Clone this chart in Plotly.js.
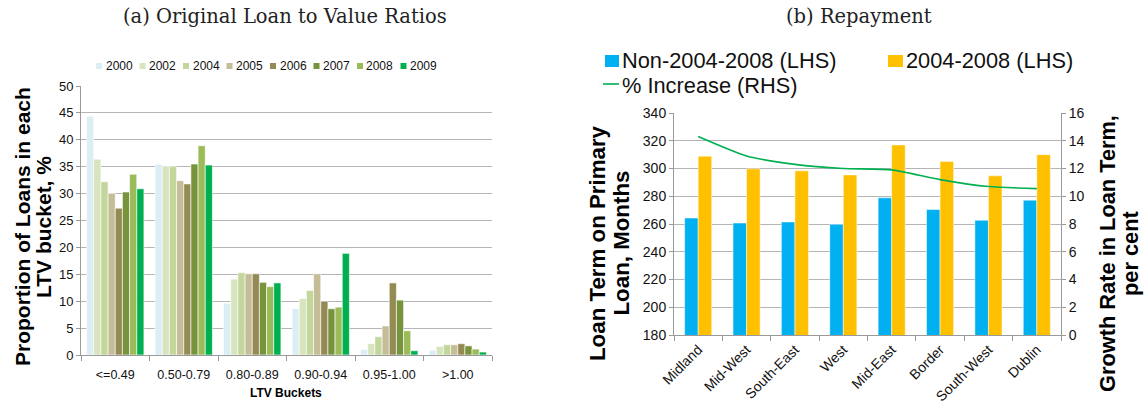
<!DOCTYPE html>
<html>
<head>
<meta charset="utf-8">
<script src="https://cdn.plot.ly/plotly-3.0.1.min.js"></script>
<style>
  html, body { margin: 0; padding: 0; background: #fff; }
  #chart { width: 1148px; height: 403px; }
</style>
</head>
<body>
<div id="chart"></div>
<script>
// ---------- Data: (a) Original Loan to Value Ratios ----------
const ltvBuckets = ['<=0.49', '0.50-0.79', '0.80-0.89', '0.90-0.94', '0.95-1.00', '>1.00'];
const years = ['2000', '2002', '2004', '2005', '2006', '2007', '2008', '2009'];
const ltv2000 = [44.4, 35.4, 9.6, 8.6, 1.0, 0.9];
const ltv2002 = [36.4, 35.1, 14.1, 10.5, 2.1, 1.6];
const ltv2004 = [32.2, 35.0, 15.3, 12.0, 3.4, 1.9];
const ltv2005 = [30.0, 32.4, 15.1, 15.1, 5.4, 1.9];
const ltv2006 = [27.3, 31.8, 15.1, 10.0, 13.4, 2.1];
const ltv2007 = [30.3, 35.5, 13.5, 8.6, 10.2, 1.7];
const ltv2008 = [33.6, 38.9, 12.7, 8.9, 4.5, 1.1];
const ltv2009 = [30.9, 35.3, 13.4, 18.9, 0.8, 0.55];
const ltvSeries = [ltv2000, ltv2002, ltv2004, ltv2005, ltv2006, ltv2007, ltv2008, ltv2009];

// ---------- Data: (b) Repayment ----------
const regions = ['Midland', 'Mid-West', 'South-East', 'West', 'Mid-East', 'Border', 'South-West', 'Dublin'];
const termNon0408 = [264.3, 260.7, 261.5, 259.8, 278.9, 270.4, 262.7, 277.2];
const term0408 = [308.9, 299.8, 298.3, 295.4, 317.0, 305.1, 294.7, 310.0];
const pctIncrease = [14.3, 12.9, 12.3, 12.0, 11.9, 11.2, 10.7, 10.55];
const seriesNames = ['Non-2004-2008 (LHS)', '2004-2008 (LHS)', '% Increase (RHS)'];

// ---------- Styles ----------
const yearColors = ['#DBEEF4', '#D7E4BD', '#C3D69B', '#C4BD97', '#948A54', '#77933C', '#9BBB59', '#00B050'];
const blue = '#00B0F0', orange = '#FFC000', green = '#00B050';
const W = 1148, H = 403;
const px = v => v / W;          // pixel x -> paper
const py = v => 1 - v / H;      // pixel y -> paper
const FONT = 'Liberation Sans, Arial, sans-serif';
const SERIF = 'DejaVu Serif, Liberation Serif, serif';
const gridC = '#b5b5b5', axC = '#9a9a9a';

const traces = [];
years.forEach((yr, i) => {
  traces.push({
    type: 'bar', name: yr, x: ltvBuckets, y: ltvSeries[i],
    xaxis: 'x', yaxis: 'y', showlegend: false,
    marker: { color: yearColors[i], line: { color: '#ffffff', width: 0.6 } }
  });
});
traces.push({
  type: 'bar', name: seriesNames[0], x: regions, y: termNon0408,
  xaxis: 'x2', yaxis: 'y2', showlegend: false, width: 0.28, offset: -0.28,
  marker: { color: blue, line: { color: '#ffffff', width: 0.5 } }
});
traces.push({
  type: 'bar', name: seriesNames[1], x: regions, y: term0408,
  xaxis: 'x2', yaxis: 'y2', showlegend: false, width: 0.28, offset: 0,
  marker: { color: orange, line: { color: '#ffffff', width: 0.5 } }
});
traces.push({
  type: 'scatter', mode: 'lines', name: seriesNames[2], x: regions, y: pctIncrease,
  xaxis: 'x2', yaxis: 'y3', showlegend: false,
  line: { color: green, width: 1.6, shape: 'spline', smoothing: 0.6 }
});

// ---------- Hand-built legends (compact, Excel style) ----------
const shapes = [];
const annotations = [];
const pitch = 43.5;
years.forEach((yr, i) => {
  const x0 = 96 + pitch * i;
  shapes.push({ type: 'rect', xref: 'paper', yref: 'paper',
    x0: px(x0), x1: px(x0 + 6), y0: py(69), y1: py(63),
    fillcolor: yearColors[i], line: { width: 0 } });
  annotations.push({ xref: 'paper', yref: 'paper', x: px(x0 + 7.5), y: py(66),
    xanchor: 'left', yanchor: 'middle', showarrow: false, text: yr,
    font: { family: FONT, size: 12, color: '#111' } });
});
// right legend
shapes.push({ type: 'rect', xref: 'paper', yref: 'paper',
  x0: px(605), x1: px(619), y0: py(67), y1: py(55), fillcolor: blue, line: { width: 0 } });
shapes.push({ type: 'rect', xref: 'paper', yref: 'paper',
  x0: px(888), x1: px(903), y0: py(67), y1: py(55), fillcolor: orange, line: { width: 0 } });
shapes.push({ type: 'line', xref: 'paper', yref: 'paper',
  x0: px(603), x1: px(619), y0: py(84), y1: py(84), line: { color: green, width: 1.6 } });
annotations.push({ xref: 'paper', yref: 'paper', x: px(620), y: py(61), xanchor: 'left', yanchor: 'middle',
  showarrow: false, text: seriesNames[0], font: { family: FONT, size: 21.8, color: '#111' } });
annotations.push({ xref: 'paper', yref: 'paper', x: px(904), y: py(61), xanchor: 'left', yanchor: 'middle',
  showarrow: false, text: seriesNames[1], font: { family: FONT, size: 21.8, color: '#111' } });
annotations.push({ xref: 'paper', yref: 'paper', x: px(620), y: py(85), xanchor: 'left', yanchor: 'middle',
  showarrow: false, text: seriesNames[2], font: { family: FONT, size: 21.8, color: '#111' } });

// ---------- Titles ----------
annotations.push({ xref: 'paper', yref: 'paper', x: px(285), y: py(16), xanchor: 'center', yanchor: 'middle',
  showarrow: false, text: '(a) Original Loan to Value Ratios', font: { family: SERIF, size: 19.5, color: '#222' } });
annotations.push({ xref: 'paper', yref: 'paper', x: px(859), y: py(16), xanchor: 'center', yanchor: 'middle',
  showarrow: false, text: '(b) Repayment', font: { family: SERIF, size: 19.5, color: '#222' } });

// ---------- Axis titles (one annotation per line, tight Excel line spacing) ----------
function vTitle(lines, xs, yc, size) {
  lines.forEach((t, i) => annotations.push({
    xref: 'paper', yref: 'paper', x: px(xs[i]), y: py(yc), xanchor: 'center', yanchor: 'middle',
    textangle: -90, showarrow: false, text: '<b>' + t + '</b>',
    font: { family: FONT, size: size, color: '#000' }
  }));
}
vTitle(['Proportion of Loans in each', 'LTV bucket, %'], [22, 43], 227, 21);
vTitle(['Loan Term on Primary', 'Loan, Months'], [597, 620.5], 243, 22.3);
vTitle(['Growth Rate in Loan Term,', 'per cent'], [1108, 1131], 254, 21.8);
annotations.push({ xref: 'paper', yref: 'paper', x: px(286), y: py(393), xanchor: 'center', yanchor: 'middle',
  showarrow: false, text: '<b>LTV Buckets</b>', font: { family: FONT, size: 12, color: '#000' } });

const tickFontL = { family: FONT, size: 13, color: '#111' };
const tickFontR = { family: FONT, size: 14, color: '#111' };

const layout = {
  width: W, height: H,
  margin: { l: 0, r: 0, t: 0, b: 0, pad: 0 },
  paper_bgcolor: '#fff', plot_bgcolor: '#fff',
  showlegend: false,
  barmode: 'group', bargap: 0.163, bargroupgap: 0,
  xaxis: {
    domain: [px(81), px(492)], anchor: 'y', type: 'category',
    showgrid: false, showline: true, linecolor: axC, linewidth: 1,
    ticks: 'outside', tickson: 'boundaries', ticklen: 5, tickcolor: axC, ticklabelstandoff: 8,
    tickfont: { family: FONT, size: 12.5, color: '#111' }, tickangle: 0, fixedrange: true
  },
  yaxis: {
    domain: [py(355), py(86)], anchor: 'x', range: [0, 50], dtick: 5, tick0: 0,
    showgrid: true, gridcolor: gridC, gridwidth: 1, zeroline: false,
    showline: true, linecolor: axC, ticks: 'outside', ticklen: 4, tickcolor: axC,
    tickfont: tickFontL, fixedrange: true
  },
  xaxis2: {
    domain: [px(674), px(1061)], anchor: 'y2', type: 'category',
    showgrid: false, showline: true, linecolor: axC, linewidth: 1,
    ticks: 'outside', tickson: 'boundaries', ticklen: 5, tickcolor: axC,
    tickfont: { family: FONT, size: 14, color: '#111' }, tickangle: -45, fixedrange: true
  },
  yaxis2: {
    domain: [py(335), py(113)], anchor: 'x2', range: [180, 340], dtick: 20, tick0: 180,
    showgrid: true, gridcolor: gridC, gridwidth: 1, zeroline: false,
    showline: true, linecolor: axC, ticks: 'outside', ticklen: 4, tickcolor: axC,
    tickfont: tickFontR, fixedrange: true
  },
  yaxis3: {
    overlaying: 'y2', anchor: 'x2', side: 'right', range: [0, 16], dtick: 2, tick0: 0,
    showgrid: false, zeroline: false,
    showline: true, linecolor: axC, ticks: 'outside', ticklen: 4, tickcolor: axC,
    tickfont: tickFontR, fixedrange: true
  },
  shapes: shapes,
  annotations: annotations
};

Plotly.newPlot('chart', traces, layout, { displayModeBar: false, staticPlot: true });
</script>
</body>
</html>
